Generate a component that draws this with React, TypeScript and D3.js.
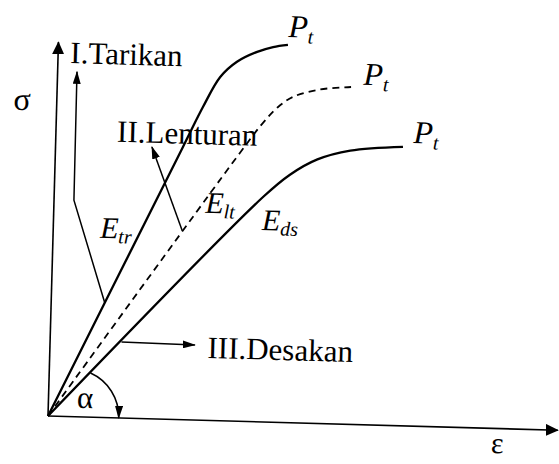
import React, { useEffect, useRef } from "react";
import * as d3 from "d3";

// points as [strain ε, stress σ], both axes run 0..100
const tarikan: [number, number][] = [
  [0, 0], [25, 73], [28.7, 83.8], [31.9, 91.9], [35.1, 96.1], [39, 98.9], [42.1, 100.3], [45, 101]
];
const lenturan: [number, number][] = [
  [0, 0], [36.2, 71.8], [40.5, 79.9], [43.4, 84.3], [46.4, 87.2], [51.5, 89.3], [57.6, 90.2]
];
const desakan: [number, number][] = [
  [0, 0], [41, 60.2], [46.1, 66.3], [51.4, 70.6], [57.8, 73.2], [68.1, 74.6]
];

// leader arrows from each curve to its name
const pointerTarikan: [number, number][] = [[10.5, 30.7], [3.9, 57.9], [3.8, 92.2]];
const pointerLenturan: [number, number][] = [[25.3, 50.5], [18.9, 72.7]];
const pointerDesakan: [number, number][] = [[14, 20.3], [28.4, 20.1]];

const curveNames = [
  { text: "I.Tarikan", eps: 2.4, sig: 94.5 },
  { text: "II.Lenturan", eps: 12, sig: 73.8 },
  { text: "III.Desakan", eps: 30.9, sig: 16.7 }
];

const moduli = [
  { sub: "tr", eps: 9.2, sig: 48 },
  { sub: "lt", eps: 29.7, sig: 55.5 },
  { sub: "ds", eps: 40.9, sig: 51.3 }
];

const peaks = [
  { eps: 45, sig: 103.1 },
  { eps: 60, sig: 90.9 },
  { eps: 70.1, sig: 75.7 }
];

// angle α: centre on the ε axis, starts on the Desakan line
const alphaCentre: [number, number] = [4.5, 0];
const alphaStart: [number, number] = [8.1, 11.8];

const serif = "'Liberation Serif', 'Times New Roman', serif";

const App = () => {
  const ref = useRef<SVGSVGElement>(null);

  useEffect(() => {
    drawSketch();
  }, []);

  const drawSketch = () => {
    const svg = d3.select(ref.current);
    svg.selectAll("*").remove();

    const width = 559;
    const height = 464;
    const origin = { x: 48, y: 416 };
    const tilt = 1.6; // the scanned figure sits turned a little clockwise

    svg.attr("width", width).attr("height", height);

    const defs = svg.append("defs");
    const addHead = (id: string, len: number, wide: number) => {
      defs.append("marker")
        .attr("id", id)
        .attr("viewBox", `0 0 ${len} ${wide}`)
        .attr("refX", len - 1)
        .attr("refY", wide / 2)
        .attr("markerWidth", len)
        .attr("markerHeight", wide)
        .attr("markerUnits", "userSpaceOnUse")
        .attr("orient", "auto")
        .append("path")
        .attr("d", `M0,0L${len},${wide / 2}L0,${wide}Z`)
        .attr("fill", "#000");
    };
    addHead("head-axis", 13, 12);
    addHead("head-pointer", 13, 8);

    const chart = svg.append("g")
      .attr("transform", `translate(${origin.x},${origin.y}) rotate(${tilt})`);

    const x = d3.scaleLinear().domain([0, 100]).range([0, 510]);
    const y = d3.scaleLinear().domain([0, 100]).range([0, -374]);

    // axes
    chart.append("line")
      .attr("x1", x(0)).attr("y1", y(0))
      .attr("x2", x(0)).attr("y2", y(100))
      .attr("stroke", "#000").attr("stroke-width", 1.6)
      .attr("marker-end", "url(#head-axis)");
    chart.append("line")
      .attr("x1", x(0)).attr("y1", y(0))
      .attr("x2", x(100)).attr("y2", y(0))
      .attr("stroke", "#000").attr("stroke-width", 1.6)
      .attr("marker-end", "url(#head-axis)");

    const curve = d3.line<[number, number]>()
      .x((d) => x(d[0]))
      .y((d) => y(d[1]))
      .curve(d3.curveCatmullRom.alpha(0.5));

    chart.append("path")
      .attr("d", curve(tarikan))
      .attr("fill", "none").attr("stroke", "#000").attr("stroke-width", 2.3);
    chart.append("path")
      .attr("d", curve(lenturan))
      .attr("fill", "none").attr("stroke", "#000").attr("stroke-width", 1.8)
      .attr("stroke-dasharray", "7,5");
    chart.append("path")
      .attr("d", curve(desakan))
      .attr("fill", "none").attr("stroke", "#000").attr("stroke-width", 2.3);

    // leader arrows
    const leader = d3.line<[number, number]>()
      .x((d) => x(d[0]))
      .y((d) => y(d[1]));
    [pointerTarikan, pointerLenturan, pointerDesakan].forEach((p) => {
      chart.append("path")
        .attr("d", leader(p))
        .attr("fill", "none").attr("stroke", "#000").attr("stroke-width", 1.5)
        .attr("marker-end", "url(#head-pointer)");
    });

    // angle arc
    const cx = x(alphaCentre[0]);
    const cy = y(alphaCentre[1]);
    const sx = x(alphaStart[0]) - cx;
    const sy = y(alphaStart[1]) - cy;
    const r = Math.hypot(sx, sy);
    const arc = d3.path();
    arc.arc(cx, cy, r, Math.atan2(sy, sx), 0, false);
    chart.append("path")
      .attr("d", arc.toString())
      .attr("fill", "none").attr("stroke", "#000").attr("stroke-width", 1.5)
      .attr("marker-end", "url(#head-pointer)");

    // curve names
    chart.selectAll(".name")
      .data(curveNames)
      .enter()
      .append("text")
      .attr("x", (d) => x(d.eps))
      .attr("y", (d) => y(d.sig))
      .attr("font-family", serif)
      .attr("font-size", 31)
      .text((d) => d.text);

    // E moduli
    const mod = chart.selectAll(".mod")
      .data(moduli)
      .enter()
      .append("text")
      .attr("x", (d) => x(d.eps))
      .attr("y", (d) => y(d.sig))
      .attr("font-family", serif)
      .attr("font-style", "italic")
      .attr("font-size", 30);
    mod.append("tspan").text("E");
    mod.append("tspan")
      .attr("font-size", 20)
      .attr("dy", 5)
      .text((d) => d.sub);

    // peak loads
    const pk = chart.selectAll(".peak")
      .data(peaks)
      .enter()
      .append("text")
      .attr("x", (d) => x(d.eps))
      .attr("y", (d) => y(d.sig))
      .attr("font-family", serif)
      .attr("font-style", "italic")
      .attr("font-size", 32);
    pk.append("tspan").text("P");
    pk.append("tspan")
      .attr("font-size", 20)
      .attr("dy", 6)
      .text("t");

    // axis symbols
    chart.append("text")
      .attr("x", x(-6.8)).attr("y", y(81.6))
      .attr("text-anchor", "middle")
      .attr("font-family", serif).attr("font-size", 32)
      .text("σ");
    chart.append("text")
      .attr("x", x(88.2)).attr("y", y(-6.6))
      .attr("text-anchor", "middle")
      .attr("font-family", serif).attr("font-size", 30)
      .text("ε");
    chart.append("text")
      .attr("x", x(5.6)).attr("y", y(2.4))
      .attr("font-family", serif).attr("font-size", 31)
      .text("α");
  };

  return (
    <svg
      ref={ref}
      style={{ position: "absolute", left: 0, top: 0, background: "#fff" }}
    ></svg>
  );
};

export default App;
